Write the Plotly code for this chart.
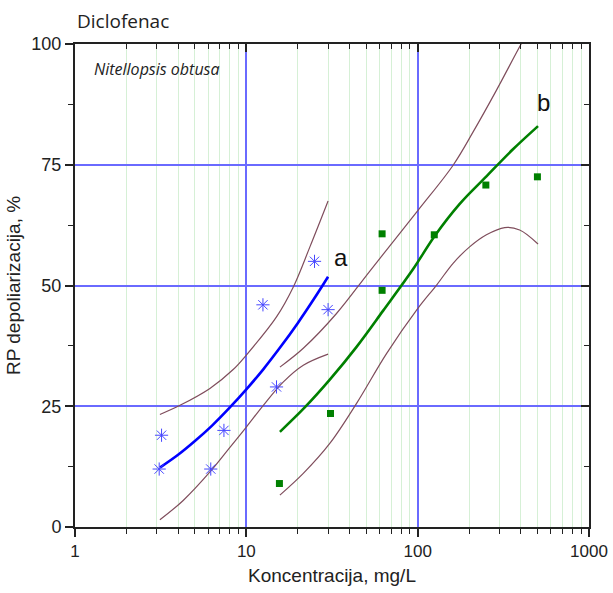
import math
import plotly.graph_objects as go

# ---- data ----
conc_a = [3.1, 3.2, 6.2, 7.4, 12.5, 15.0, 25.0, 30.0]
resp_a = [12.0, 19.0, 12.0, 20.0, 46.0, 29.0, 55.0, 45.0]

conc_b = [15.6, 31.0, 62.0, 62.0, 125.0, 250.0, 500.0]
resp_b = [9.0, 23.5, 60.7, 49.0, 60.5, 70.8, 72.5]

fit_a_x = [3.13, 3.98, 5.01, 6.31, 7.94, 10.0, 12.59, 15.85, 19.95, 25.12, 30.0]
fit_a_y = [12.3, 14.9, 17.8, 21.0, 24.6, 28.5, 32.7, 37.3, 42.2, 47.5, 51.8]
up_a_x = [3.13, 4.10, 6.13, 8.38, 10.0, 15.0, 18.8, 23.5, 30.0]
up_a_y = [23.3, 25.2, 28.7, 32.6, 35.6, 43.5, 49.7, 58.0, 67.5]
lo_a_x = [3.13, 4.28, 6.13, 8.02, 10.0, 12.5, 16.4, 21.5, 30.0]
lo_a_y = [1.5, 5.5, 11.4, 16.5, 20.7, 25.1, 30.0, 33.5, 35.8]

fit_b_x = [15.7, 22.0, 30.7, 44.0, 62.9, 94.1, 126, 176, 252, 360, 504]
fit_b_y = [19.7, 24.8, 30.5, 37.3, 44.8, 53.4, 60.3, 66.9, 72.6, 78.2, 83.0]
up_b_x = [15.7, 21.5, 33.6, 52.6, 100.7, 161, 210.7, 288, 403, 501]
up_b_y = [33.1, 37.0, 44.2, 53.0, 65.6, 74.9, 81.8, 90.4, 100.1, 106.0]
lo_b_x = [15.7, 21.5, 30.7, 44.0, 65.8, 100, 129, 161, 201, 252, 322, 394, 504]
lo_b_y = [6.6, 11.1, 17.3, 25.6, 35.9, 45.2, 50.1, 54.6, 58.0, 60.5, 62.0, 61.5, 58.6]

x_major = [1, 10, 100, 1000]
x_minor = [m * d for d in (1, 10, 100) for m in range(2, 10)]
y_major = [0, 25, 50, 75, 100]
y_minor = [12.5, 37.5, 62.5, 87.5]

BAND = "#7f4d5c"
BLUE = "#0000ff"
GREEN = "#008000"
GRID = "#6a6aff"
FONT = "Liberation Sans, Arial, sans-serif"

fig = go.Figure()

for xs, ys in [(up_a_x, up_a_y), (lo_a_x, lo_a_y), (up_b_x, up_b_y), (lo_b_x, lo_b_y)]:
    fig.add_trace(go.Scatter(x=xs, y=ys, mode="lines", line=dict(color=BAND, width=1.2, shape="spline"),
                             showlegend=False, hoverinfo="skip"))

fig.add_trace(go.Scatter(x=fit_a_x, y=fit_a_y, mode="lines", line=dict(color=BLUE, width=2.6, shape="spline"),
                         showlegend=False))
fig.add_trace(go.Scatter(x=fit_b_x, y=fit_b_y, mode="lines", line=dict(color=GREEN, width=2.6, shape="spline"),
                         showlegend=False))

fig.add_trace(go.Scatter(x=conc_a, y=resp_a, mode="markers",
                         marker=dict(symbol="asterisk-open", size=11, color="#4646ff", line=dict(width=1.0, color="#4646ff")),
                         showlegend=False))
fig.add_trace(go.Scatter(x=conc_b, y=resp_b, mode="markers",
                         marker=dict(symbol="square", size=7, color=GREEN),
                         showlegend=False))

# empty trace that carries the mirrored frame axes (top / right, ticks inside)
fig.add_trace(go.Scatter(x=[None], y=[None], xaxis="x2", yaxis="y2", showlegend=False, hoverinfo="skip"))

xr = [0, 3]
yr = [0, 100]

fig.update_layout(
    template="none",
    width=613, height=593,
    margin=dict(l=75, r=24, t=44, b=66),
    plot_bgcolor="white", paper_bgcolor="white",
    hovermode=False,
    font=dict(family=FONT, size=17, color="#222222"),
    xaxis=dict(
        type="log", range=xr, tickvals=x_major, ticktext=[str(v) for v in x_major],
        ticks="outside", ticklen=8, tickwidth=1.5, tickcolor="#222",
        showline=True, linecolor="#222", linewidth=2,
        showgrid=True, gridcolor=GRID, gridwidth=1.6, zeroline=False,
        tickfont=dict(size=17),
        title=dict(text="Koncentracija, mg/L", font=dict(size=19), standoff=8),
        minor=dict(tickvals=x_minor, ticks="outside", ticklen=5, tickwidth=1.2, tickcolor="#222",
                   showgrid=True, gridcolor="#d6f0d6", gridwidth=1.2),
    ),
    yaxis=dict(
        range=yr, tickvals=y_major, ticks="outside", ticklen=8, tickwidth=1.5, tickcolor="#222",
        showline=True, linecolor="#222", linewidth=2,
        showgrid=True, gridcolor=GRID, gridwidth=1.6, zeroline=False,
        tickfont=dict(size=18),
        title=dict(text="RP depoliarizacija, %", font=dict(size=19), standoff=6),
        minor=dict(tickvals=y_minor, ticks="outside", ticklen=5, tickwidth=1.2, tickcolor="#222", showgrid=False),
    ),
    xaxis2=dict(
        type="log", range=xr, overlaying="x", side="top", anchor="y", tickvals=x_major, showticklabels=False,
        ticks="inside", ticklen=8, tickwidth=1.5, tickcolor="#222",
        showline=True, linecolor="#222", linewidth=2, showgrid=False, zeroline=False,
        minor=dict(tickvals=x_minor, ticks="inside", ticklen=5, tickwidth=1.2, tickcolor="#222", showgrid=False),
    ),
    yaxis2=dict(
        range=yr, overlaying="y", side="right", anchor="x", tickvals=y_major, showticklabels=False,
        ticks="inside", ticklen=8, tickwidth=1.5, tickcolor="#222",
        showline=True, linecolor="#222", linewidth=2, showgrid=False, zeroline=False,
        minor=dict(tickvals=y_minor, ticks="inside", ticklen=5, tickwidth=1.2, tickcolor="#222", showgrid=False),
    ),
    annotations=[
        dict(text="Diclofenac", xref="paper", yref="paper", x=0, y=1, xanchor="left", yanchor="bottom",
             yshift=8, showarrow=False, font=dict(family="Open Sans, sans-serif", size=19, color="#222")),
        dict(text="<i>Nitellopsis obtusa</i>", xref="x", yref="y", x=math.log10(1.25), y=94.8,
             xanchor="left", yanchor="middle", showarrow=False,
             font=dict(family="Open Sans, sans-serif", size=16, color="#222")),
        dict(text="a", xref="x", yref="y", x=math.log10(35.6), y=55.9, xanchor="center", yanchor="middle",
             showarrow=False, font=dict(family=FONT, size=24, color="#111")),
        dict(text="b", xref="x", yref="y", x=math.log10(544), y=87.8, xanchor="center", yanchor="middle",
             showarrow=False, font=dict(family=FONT, size=24, color="#111")),
    ],
)

fig.write_html("out.html")
